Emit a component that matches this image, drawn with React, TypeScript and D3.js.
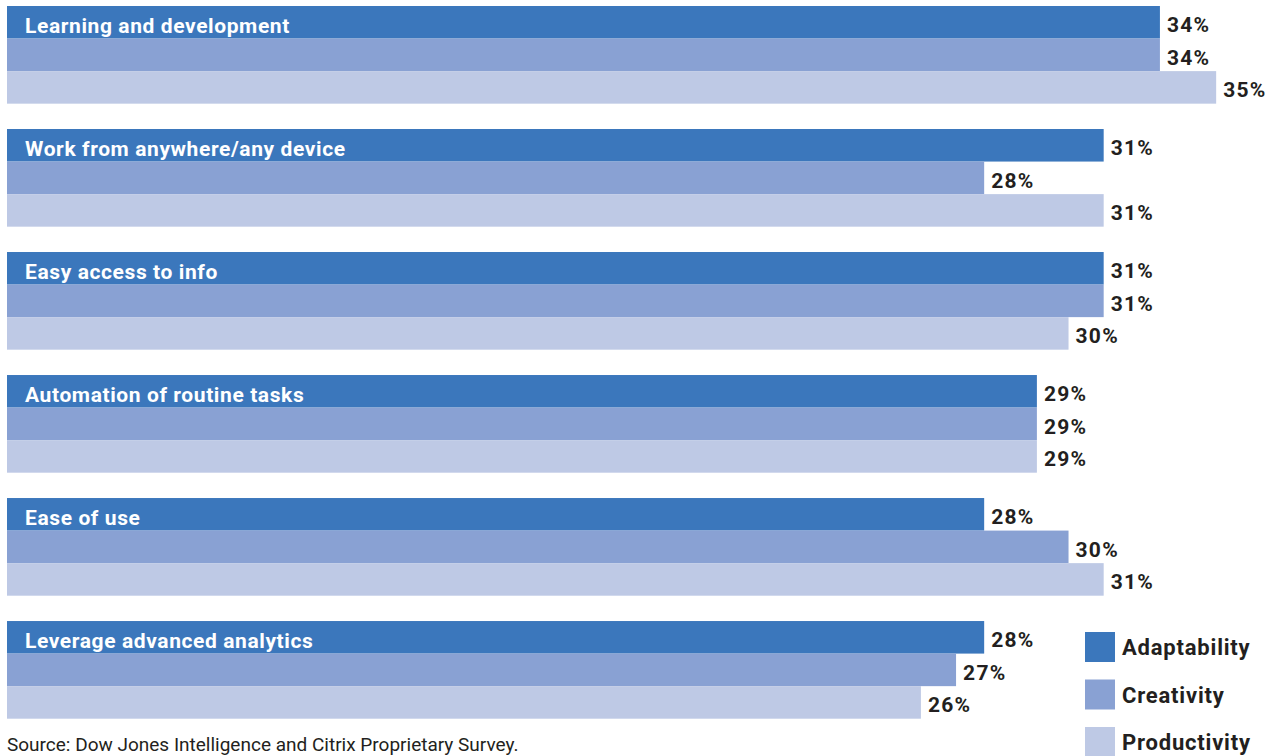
import React from "react";
import * as d3 from "d3";

const categories = [
  "Learning and development",
  "Work from anywhere/any device",
  "Easy access to info",
  "Automation of routine tasks",
  "Ease of use",
  "Leverage advanced analytics",
];
const seriesNames = ["Adaptability", "Creativity", "Productivity"];
const seriesColors = ["#3b77bc", "#89a1d3", "#bec9e5"];
// bar lengths (percent, as drawn)
const adaptability = [32.8, 31.2, 31.2, 29.3, 27.8, 27.8];
const creativity = [32.8, 27.8, 31.2, 29.3, 30.2, 27.0];
const productivity = [34.4, 31.2, 30.2, 29.3, 31.2, 26.0];
// printed labels
const adaptabilityLabels = ["34%", "31%", "31%", "29%", "28%", "28%"];
const creativityLabels = ["34%", "28%", "31%", "29%", "30%", "27%"];
const productivityLabels = ["35%", "31%", "30%", "29%", "31%", "26%"];
const sourceText = "Source: Dow Jones Intelligence and Citrix Proprietary Survey.";

const W = 1275;
const H = 756;

export default function App() {
  const series = [adaptability, creativity, productivity];
  const labels = [adaptabilityLabels, creativityLabels, productivityLabels];
  const x = d3.scaleLinear().domain([0, 35]).range([7, 7 + 35 * 35.15]);
  const y = d3
    .scaleBand<string>()
    .domain(categories)
    .range([6, 718.7])
    .paddingInner(0.206)
    .paddingOuter(0);
  const yInner = d3
    .scaleBand<string>()
    .domain(seriesNames)
    .range([0, y.bandwidth()])
    .padding(0);
  const font = "Roboto, 'Noto Sans', sans-serif";

  return (
    <svg
      width={W}
      height={H}
      style={{ position: "absolute", left: 0, top: 0, fontFamily: font }}
    >
      <rect width={W} height={H} fill="#fff" />
      {categories.map((c, i) => (
        <g key={c}>
          {seriesNames.map((s, j) => {
            const y0 = (y(c) as number) + (yInner(s) as number);
            const h = yInner.bandwidth();
            const xe = x(series[j][i]);
            return (
              <g key={s}>
                <rect x={x(0)} y={y0} width={xe - x(0)} height={h} fill={seriesColors[j]} />
                <text
                  x={xe + 7}
                  y={y0 + h / 2 + 10}
                  fontSize={21}
                  fontWeight={700}
                  letterSpacing={1.3}
                  fill="#231f20"
                >
                  {labels[j][i]}
                </text>
              </g>
            );
          })}
          <text
            x={25}
            y={(y(c) as number) + yInner.bandwidth() / 2 + 10.5}
            fontSize={21}
            fontWeight={700}
            letterSpacing={0.6}
            fill="#fff"
          >
            {c}
          </text>
        </g>
      ))}
      {seriesNames.map((s, j) => (
        <g key={s} transform={`translate(1085, ${632 + j * 47.5})`}>
          <rect width={30} height={30} fill={seriesColors[j]} />
          <text x={37} y={23} fontSize={22} fontWeight={700} letterSpacing={0.8} fill="#231f20">
            {s}
          </text>
        </g>
      ))}
      <text x={7} y={751} fontSize={19} fill="#231f20">
        {sourceText}
      </text>
    </svg>
  );
}
